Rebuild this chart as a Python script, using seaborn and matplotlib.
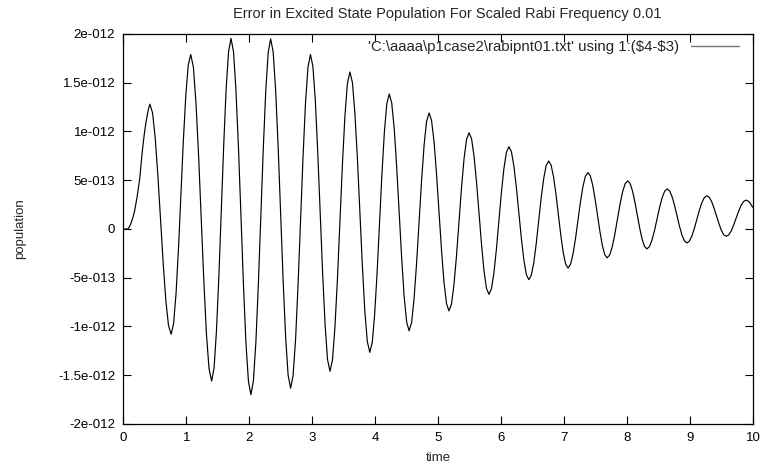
import matplotlib
matplotlib.use("Agg")
import matplotlib.pyplot as plt
import seaborn as sns
import pandas as pd

# Sampled error curve: time and excited-state population error (in units of 1e-12)
time = [
    0.0, 0.035, 0.07, 0.10, 0.125, 0.15, 0.177, 0.195, 0.214, 0.235,
    0.257, 0.275, 0.294, 0.315, 0.336, 0.357, 0.378, 0.40, 0.42,
    0.462, 0.504, 0.546, 0.589, 0.631, 0.673, 0.715, 0.757,
    0.796, 0.835, 0.874, 0.913, 0.951, 0.99, 1.029, 1.068,
    1.11, 1.151, 1.193, 1.234, 1.276, 1.317, 1.359, 1.40,
    1.439, 1.477, 1.516, 1.554, 1.593, 1.631, 1.67, 1.708,
    1.748, 1.787, 1.827, 1.866, 1.906, 1.945, 1.985, 2.024,
    2.063, 2.103, 2.142, 2.181, 2.221, 2.26, 2.299, 2.338,
    2.378, 2.417, 2.457, 2.497, 2.536, 2.576, 2.615, 2.655,
    2.694, 2.734, 2.773, 2.813, 2.852, 2.891, 2.931, 2.97,
    3.009, 3.048, 3.086, 3.125, 3.164, 3.203, 3.241, 3.28,
    3.32, 3.359, 3.399, 3.439, 3.478, 3.518, 3.557, 3.597,
    3.637, 3.676, 3.716, 3.755, 3.795, 3.834, 3.874, 3.913,
    3.952, 3.99, 4.029, 4.068, 4.106, 4.145, 4.183, 4.222,
    4.261, 4.301, 4.34, 4.38, 4.419, 4.458, 4.498, 4.537,
    4.577, 4.616, 4.656, 4.696, 4.736, 4.776, 4.815, 4.855,
    4.894, 4.934, 4.973, 5.013, 5.052, 5.091, 5.131, 5.17,
    5.21, 5.25, 5.29, 5.33, 5.37, 5.41, 5.45, 5.49,
    5.53, 5.569, 5.609, 5.648, 5.688, 5.727, 5.766, 5.806,
    5.846, 5.885, 5.925, 5.965, 6.004, 6.044, 6.083, 6.123,
    6.163, 6.202, 6.242, 6.282, 6.321, 6.361, 6.4, 6.44,
    6.479, 6.519, 6.558, 6.597, 6.636, 6.676, 6.715, 6.754,
    6.793, 6.831, 6.87, 6.908, 6.947, 6.985, 7.024, 7.062,
    7.102, 7.141, 7.181, 7.22, 7.259, 7.299, 7.338, 7.378,
    7.416, 7.454, 7.492, 7.531, 7.569, 7.607, 7.645, 7.683,
    7.724, 7.765, 7.806, 7.847, 7.887, 7.928, 7.969, 8.01,
    8.048, 8.086, 8.124, 8.162, 8.2, 8.238, 8.276, 8.314,
    8.355, 8.395, 8.436, 8.476, 8.517, 8.557, 8.598, 8.638,
    8.677, 8.716, 8.755, 8.794, 8.833, 8.872, 8.911, 8.95,
    8.99, 9.029, 9.069, 9.109, 9.148, 9.188, 9.227, 9.267,
    9.306, 9.344, 9.383, 9.421, 9.46, 9.498, 9.537, 9.575,
    9.614, 9.654, 9.693, 9.733, 9.772, 9.811, 9.851, 9.89,
    9.92, 9.95, 9.975, 10.0,
]

population_e12 = [
    0.0, 0.0, 0.0, 0.03, 0.068, 0.12, 0.187, 0.25, 0.32, 0.41,
    0.51, 0.64, 0.765, 0.89, 1.0, 1.09, 1.17, 1.24, 1.28,
    1.19, 0.934, 0.552, 0.1, -0.352, -0.734, -0.99, -1.08,
    -0.971, -0.66, -0.195, 0.355, 0.905, 1.37, 1.681, 1.79,
    1.663, 1.299, 0.757, 0.115, -0.527, -1.069, -1.433, -1.56,
    -1.426, -1.045, -0.475, 0.198, 0.871, 1.441, 1.822, 1.955,
    1.817, 1.42, 0.828, 0.128, -0.573, -1.165, -1.562, -1.70,
    -1.561, -1.165, -0.574, 0.125, 0.824, 1.415, 1.811, 1.95,
    1.814, 1.426, 0.845, 0.159, -0.528, -1.109, -1.497, -1.633,
    -1.503, -1.132, -0.577, 0.079, 0.734, 1.289, 1.66, 1.79,
    1.667, 1.314, 0.787, 0.165, -0.457, -0.984, -1.337, -1.46,
    -1.343, -1.01, -0.513, 0.075, 0.663, 1.16, 1.493, 1.61,
    1.501, 1.189, 0.724, 0.173, -0.379, -0.844, -1.156, -1.265,
    -1.164, -0.877, -0.447, 0.06, 0.567, 0.997, 1.284, 1.385,
    1.293, 1.03, 0.636, 0.171, -0.295, -0.689, -0.952, -1.044,
    -0.959, -0.717, -0.355, 0.073, 0.501, 0.863, 1.105, 1.19,
    1.113, 0.893, 0.564, 0.175, -0.214, -0.543, -0.763, -0.84,
    -0.771, -0.573, -0.277, 0.074, 0.424, 0.72, 0.918, 0.987,
    0.925, 0.745, 0.476, 0.159, -0.159, -0.428, -0.608, -0.67,
    -0.612, -0.448, -0.203, 0.087, 0.377, 0.622, 0.786, 0.844,
    0.792, 0.644, 0.423, 0.162, -0.099, -0.32, -0.468, -0.52,
    -0.474, -0.342, -0.145, 0.089, 0.322, 0.519, 0.651, 0.697,
    0.656, 0.537, 0.359, 0.149, -0.062, -0.24, -0.359, -0.40,
    -0.363, -0.257, -0.098, 0.089, 0.276, 0.435, 0.541, 0.578,
    0.545, 0.45, 0.308, 0.141, -0.026, -0.168, -0.263, -0.296,
    -0.267, -0.181, -0.053, 0.099, 0.25, 0.378, 0.464, 0.493,
    0.467, 0.391, 0.278, 0.145, 0.011, -0.102, -0.178, -0.204,
    -0.181, -0.114, -0.015, 0.104, 0.222, 0.321, 0.388, 0.411,
    0.39, 0.33, 0.24, 0.134, 0.028, -0.062, -0.122, -0.143,
    -0.125, -0.073, 0.006, 0.099, 0.191, 0.27, 0.322, 0.34,
    0.325, 0.28, 0.212, 0.133, 0.054, -0.015, -0.06, -0.075,
    -0.061, -0.021, 0.04, 0.111, 0.182, 0.242, 0.282, 0.296,
    0.288, 0.27, 0.245, 0.22,
]

x_ticks = [0, 1, 2, 3, 4, 5, 6, 7, 8, 9, 10]
y_ticks_e12 = [-2.0, -1.5, -1.0, -0.5, 0.0, 0.5, 1.0, 1.5, 2.0]
y_tick_labels = ["-2e-012", "-1.5e-012", "-1e-012", "-5e-013", "0",
                 "5e-013", "1e-012", "1.5e-012", "2e-012"]

series_label = "'C:\\aaaa\\p1case2\\rabipnt01.txt' using 1:(\\$4-\\$3)"
title_text = "Error in Excited State Population For Scaled Rabi Frequency 0.01"

sns.set_style("ticks")
plt.rcParams["font.family"] = ["Liberation Sans", "DejaVu Sans"]
plt.rcParams["font.size"] = 9.5

df = pd.DataFrame({"time": time,
                   "population": [v * 1e-12 for v in population_e12]})

fig = plt.figure(figsize=(7.67, 4.72), dpi=100)
ax = fig.add_axes([0.161, 0.1017, 0.8207, 0.8263])

sns.lineplot(data=df, x="time", y="population", ax=ax, color="black",
             linewidth=0.85, label=series_label, sort=False)

ax.set_xlim(0, 10)
ax.set_ylim(-2e-12, 2e-12)
ax.set_xticks(x_ticks)
ax.set_xticklabels([str(t) for t in x_ticks])
ax.set_yticks([v * 1e-12 for v in y_ticks_e12])
ax.set_yticklabels(y_tick_labels)

ax.tick_params(direction="in", length=6, width=0.8, top=True, right=True,
               labelsize=9.5, colors="black", pad=6)
for s in ax.spines.values():
    s.set_linewidth(0.9)
    s.set_color("black")

ax.set_xlabel("time", fontsize=9.5)
ax.xaxis.set_label_coords(0.5, -0.072)
ax.set_ylabel("population", fontsize=9.5)
ax.yaxis.set_label_coords(-0.155, 0.5)

fig.text(447 / 767, 1 - 14 / 472, title_text, ha="center",
         va="center", fontsize=10.5)

leg = ax.legend(loc="upper right", frameon=False, markerfirst=False,
                handlelength=3.2, handletextpad=0.8, fontsize=10.8,
                borderaxespad=0.0, bbox_to_anchor=(0.988, 1.0))
for line in leg.get_lines():
    line.set_color("#777777")
    line.set_linewidth(1.0)

fig.savefig("out.png", dpi=100)
